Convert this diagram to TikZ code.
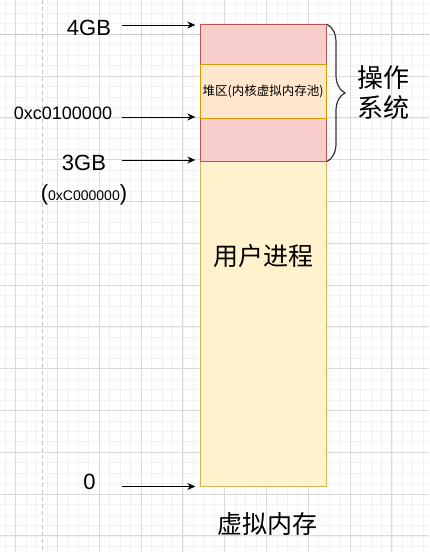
\documentclass[tikz,border=0pt]{standalone}
\usepackage{fontspec}
\setmainfont{Liberation Sans}
\newfontfamily\cjk{Noto Sans CJK SC}
\usetikzlibrary{arrows.meta,decorations.pathreplacing}
\definecolor{osfill}{HTML}{F8CECC}
\definecolor{osline}{HTML}{B85450}
\definecolor{heapfill}{HTML}{FFE6CC}
\definecolor{heapline}{HTML}{D79B00}
\definecolor{userfill}{HTML}{FFF2CC}
\definecolor{userline}{HTML}{D6B656}
\definecolor{minorgrid}{HTML}{F2F2F2}
\definecolor{majorgrid}{HTML}{DADADA}
\definecolor{pagebreak}{HTML}{C2C2C2}
\begin{document}
\begin{tikzpicture}[x=1pt,y=-1pt]
			\useasboundingbox (0,0) rectangle (429,552);
			\fill[white] (0,0) rectangle (429,552);
			\tikzstyle{minorline}=[minorgrid, line width=0.8pt]
			\tikzstyle{majorline}=[majorgrid, line width=0.9pt]
			\tikzstyle{breakline}=[pagebreak, line width=1.2pt, dash pattern=on 4pt off 3pt]
			\foreach \i in {-1,...,39} \draw[minorline] ({15.7+10.45*\i},0) -- ({15.7+10.45*\i},552);
			\foreach \i in {-3,...,49} \draw[minorline] (0,{34.3+10.45*\i}) -- (429,{34.3+10.45*\i});
			\foreach \i in {0,...,9} \draw[majorline] ({15.7+41.8*\i},0) -- ({15.7+41.8*\i},552);
			\foreach \i in {0,...,12} \draw[majorline] (0,{34.3+41.8*\i}) -- (429,{34.3+41.8*\i});
			\draw[breakline] (0,34.3) -- (429,34.3);
			\draw[breakline] (42.7,0) -- (42.7,552);
			\def\W{125.7}
			\tikzstyle{block}=[rectangle, anchor=north west, inner sep=0pt, outer sep=0pt, line width=1pt, minimum width=\W]
			\tikzstyle{ptr}=[black, line width=0.9pt, -{Stealth[length=8pt,width=7pt]}, shorten >=5pt]
			\tikzstyle{addr}=[inner sep=0pt, font=\fontsize{22}{26}\selectfont]
			\node[block, fill=userfill, draw=userline, minimum height=325.7] (user) at (200.3,161) {};
			\node[block, fill=osfill, draw=osline, minimum height=136.7] (kernel) at (200.3,24.3) {};
			\node[block, fill=heapfill, draw=heapline, minimum height=53.3, font=\cjk\fontsize{12.5}{14}\selectfont] (heap) at (200.3,64.7) {堆区(内核虚拟内存池)};
			\node[font=\cjk\fontsize{25}{30}\selectfont] (userlbl) at (263,256) {用户进程};
			\node[font=\cjk\fontsize{25}{30}\selectfont] (vmem) at (267.5,524) {虚拟内存};
			\node[font=\cjk\fontsize{26}{30}\selectfont, align=center] (oslbl) at (383.5,92.5) {操作\\系统};
			\draw[decorate, decoration={brace, amplitude=18pt}, black!80, line width=1.2pt] (327,24.3) -- (327,161.5);
			\node[addr] (gb4) at (89,28) {4GB};
			\node[addr, font=\fontsize{18}{22}\selectfont] (kaddr) at (63,113.7) {0xc0100000};
			\node[addr] (gb3) at (84,163.3) {3GB};
			\node[addr] (hex3) at (84,194.5) {(\fontsize{14}{16}\selectfont 0xC000000\fontsize{22}{26}\selectfont)};
			\node[addr] (zero) at (89.5,481.7) {0};
			\coordinate (a4) at (121.7,25);
			\coordinate (ak) at (121.7,117);
			\coordinate (a3) at (121.7,160);
			\coordinate (a0) at (121.7,486.5);
			\draw[ptr] (a4) -- (a4 -| kernel.west);
			\draw[ptr] (ak) -- (ak -| kernel.west);
			\draw[ptr] (a3) -- (a3 -| kernel.west);
			\draw[ptr] (a0) -- (a0 -| user.west);
		\end{tikzpicture}
\end{document}
